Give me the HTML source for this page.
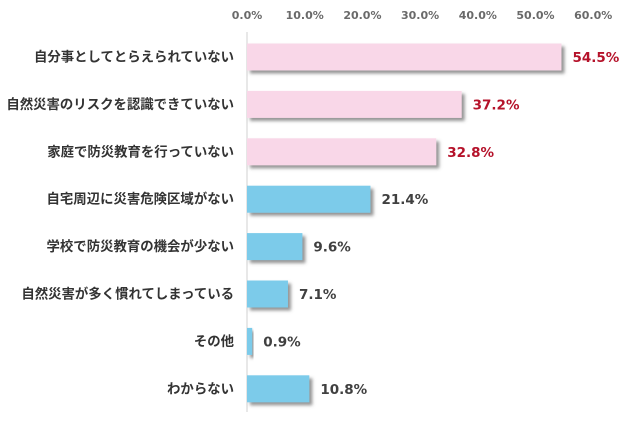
<!DOCTYPE html>
<html><head><meta charset="utf-8">
<style>
body{margin:0;background:#fff;width:627px;height:425px;overflow:hidden;font-family:"Liberation Sans","Noto Sans CJK JP",sans-serif;}
svg text{font-family:"Liberation Sans","Noto Sans CJK JP",sans-serif;font-weight:bold;}
svg text.num{font-family:"DejaVu Sans",sans-serif;}
</style></head><body>
<svg id="chart" width="627" height="425" xmlns="http://www.w3.org/2000/svg">
<defs><filter id="sh" x="-10%" y="-20%" width="130%" height="160%"><feDropShadow dx="3" dy="3" stdDeviation="1.5" flood-color="#666" flood-opacity="0.7"/></filter></defs>
</svg>
<script>
const categories=["自分事としてとらえられていない","自然災害のリスクを認識できていない","家庭で防災教育を行っていない","自宅周辺に災害危険区域がない","学校で防災教育の機会が少ない","自然災害が多く慣れてしまっている","その他","わからない"];
const values=[54.5,37.2,32.8,21.4,9.6,7.1,0.9,10.8];
const highlighted=[true,true,true,false,false,false,false,false];
const ticks=[0,10,20,30,40,50,60];
const tickLabels=["0.0%","10.0%","20.0%","30.0%","40.0%","50.0%","60.0%"];
const svg=document.getElementById('chart');
const NS='http://www.w3.org/2000/svg';
const x0=247,pxPer=5.77,y0=57,step=47.4,bh=27;
const X=v=>x0+v*pxPer, Y=i=>y0+i*step;
function mk(t,a){const e=document.createElementNS(NS,t);for(const k in a)e.setAttribute(k,a[k]);svg.appendChild(e);return e;}
ticks.forEach((t,i)=>{const e=mk('text',{x:X(t),y:19,'text-anchor':'middle','font-size':11,fill:'#6a6a6a','class':'num'});e.textContent=tickLabels[i];

});
const ax=mk('line',{x1:x0,x2:x0,y1:32,y2:412,stroke:'#d0d0d0','stroke-width':1});


categories.forEach((c,i)=>{
 const cy=Y(i);
 const l=mk('text',{x:234,y:cy+4.5,'text-anchor':'end','font-size':13.4,fill:'#333'});l.textContent=c;
 
 
 const r=mk('rect',{x:x0,y:cy-bh/2,width:X(values[i])-x0,height:bh,fill:highlighted[i]?'#f9d7e8':'#7ccbea',filter:'url(#sh)'});
 
 
 const v=mk('text',{x:X(values[i])+11,y:cy+5,'font-size':13.5,fill:highlighted[i]?'#b5122a':'#404040','class':'num'});v.textContent=values[i].toFixed(1)+'%';
 
 
});
</script>
</body></html>
